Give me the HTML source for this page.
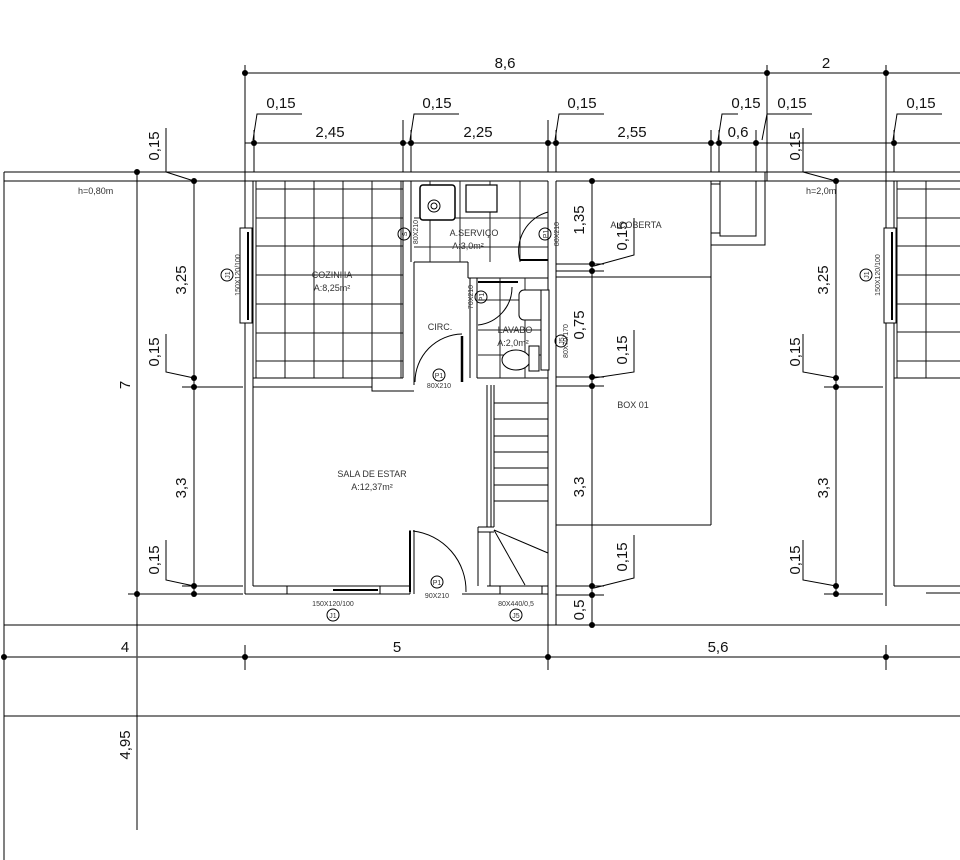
<!DOCTYPE html>
<html><head><meta charset="utf-8"><style>
html,body{margin:0;padding:0;background:#fff}
svg{display:block}
text{font-family:"Liberation Sans",sans-serif;fill:#111}
.d{font-size:15px}
.s{font-size:9px;fill:#333}
.t{font-size:7px;fill:#333}
</style></head><body>
<svg width="960" height="860" viewBox="0 0 960 860" xmlns="http://www.w3.org/2000/svg">
<g stroke="#000" stroke-width="1" fill="none">
<line x1="245" y1="73" x2="960" y2="73"/>
<line x1="245" y1="65" x2="245" y2="181"/>
<line x1="767" y1="65" x2="767" y2="181"/>
<line x1="886" y1="65" x2="886" y2="181"/>
<line x1="245" y1="143" x2="960" y2="143"/>
<g>
<line x1="254" y1="130" x2="254" y2="172"/><line x1="403" y1="120" x2="403" y2="172"/><line x1="411" y1="130" x2="411" y2="172"/>
<line x1="548" y1="120" x2="548" y2="172"/><line x1="556" y1="130" x2="556" y2="172"/>
<line x1="711" y1="130" x2="711" y2="172"/><line x1="719" y1="130" x2="719" y2="172"/><line x1="756" y1="130" x2="756" y2="172"/>
<line x1="894" y1="130" x2="894" y2="172"/>
</g>
<polyline points="302,114 257,114 253,140"/>
<polyline points="459,114 414,114 410,140"/>
<polyline points="604,114 559,114 555,140"/>
<polyline points="738,114 722,114 718,140"/>
<polyline points="812,114 767,114 762,140"/>
<polyline points="942,114 897,114 893,140"/>
<line x1="4" y1="172" x2="960" y2="172"/>
<line x1="4" y1="181" x2="245" y2="181"/>
<line x1="4" y1="172" x2="4" y2="860"/>
<line x1="137" y1="172" x2="137" y2="830"/>
<line x1="4" y1="625" x2="960" y2="625"/>
<line x1="4" y1="657" x2="960" y2="657" stroke="#555" stroke-width="1.5"/>
<line x1="4" y1="716" x2="960" y2="716"/>
<line x1="245" y1="645" x2="245" y2="670"/><line x1="548" y1="625" x2="548" y2="670"/><line x1="886" y1="645" x2="886" y2="670"/>
<line x1="194" y1="181" x2="194" y2="594"/>
<polyline points="166,128 166,172 194,181"/>
<polyline points="166,334 166,372 194,378"/>
<polyline points="166,540 166,580 194,586"/>
<line x1="182" y1="387" x2="243" y2="387"/>
<line x1="128" y1="594" x2="243" y2="594"/>
<line x1="182" y1="586" x2="243" y2="586"/>
<line x1="245" y1="181" x2="245" y2="594"/><line x1="253" y1="181" x2="253" y2="586"/>
<line x1="245" y1="181" x2="548" y2="181"/>
<line x1="245" y1="594" x2="410" y2="594"/><line x1="253" y1="586" x2="410" y2="586"/>
<line x1="462" y1="594" x2="548" y2="594"/><line x1="487" y1="586" x2="548" y2="586"/>
<line x1="410" y1="530" x2="410" y2="594"/><line x1="414" y1="530" x2="414" y2="594"/>
<line x1="548" y1="181" x2="548" y2="625"/><line x1="556" y1="181" x2="556" y2="625"/>
<line x1="556" y1="181" x2="960" y2="181"/>
<rect x="287" y="586" width="93" height="8"/>
<line x1="333" y1="590" x2="378" y2="590" stroke-width="2"/>
<rect x="500" y="586" width="42" height="8"/>
<g stroke="#111">
<line x1="256" y1="181" x2="256" y2="378"/><line x1="285" y1="181" x2="285" y2="378"/><line x1="314" y1="181" x2="314" y2="378"/>
<line x1="343" y1="181" x2="343" y2="378"/><line x1="372" y1="181" x2="372" y2="378"/><line x1="401" y1="181" x2="401" y2="378"/>
<line x1="256" y1="189" x2="403" y2="189"/><line x1="256" y1="218" x2="403" y2="218"/><line x1="256" y1="246" x2="403" y2="246"/>
<line x1="256" y1="275" x2="403" y2="275"/><line x1="256" y1="304" x2="403" y2="304"/><line x1="256" y1="333" x2="403" y2="333"/>
<line x1="256" y1="361" x2="403" y2="361"/>
</g>
<line x1="253" y1="378" x2="403" y2="378"/><line x1="253" y1="387" x2="372" y2="387"/>
<polyline points="372,378 372,391 414,391"/>
<line x1="403" y1="181" x2="403" y2="378"/><line x1="411" y1="181" x2="411" y2="262"/>
<line x1="414" y1="262" x2="414" y2="385"/>
<rect x="240" y="228" width="12" height="95" fill="#fff"/>
<line x1="248" y1="232" x2="248" y2="320" stroke-width="2"/>
<line x1="414" y1="262" x2="468" y2="262"/><line x1="468" y1="262" x2="468" y2="278"/>
<line x1="468" y1="278" x2="548" y2="278"/><line x1="477" y1="278" x2="477" y2="378"/>
<line x1="470" y1="278" x2="470" y2="378"/>
<line x1="477" y1="378" x2="548" y2="378"/>
<g stroke="#222">
<line x1="430" y1="181" x2="430" y2="262"/><line x1="460" y1="181" x2="460" y2="262"/><line x1="490" y1="181" x2="490" y2="262"/><line x1="520" y1="181" x2="520" y2="262"/>
<line x1="414" y1="218" x2="548" y2="218"/><line x1="414" y1="247" x2="548" y2="247"/>
<line x1="500" y1="278" x2="500" y2="378"/><line x1="525" y1="278" x2="525" y2="378"/>
<line x1="478" y1="300" x2="548" y2="300"/><line x1="478" y1="330" x2="548" y2="330"/><line x1="478" y1="355" x2="548" y2="355"/>
</g>
<rect x="420" y="185" width="35" height="35" rx="3" fill="#fff" stroke-width="1.5"/>
<circle cx="434" cy="206" r="6"/><circle cx="434" cy="206" r="3"/>
<rect x="466" y="185" width="31" height="27" fill="#fff" stroke-width="1.2"/>
<rect x="519" y="290" width="27" height="30" rx="5" fill="#fff"/>
<ellipse cx="516" cy="360" rx="14" ry="10" fill="#fff"/>
<rect x="529" y="346" width="10" height="25" fill="#fff"/>
<path d="M520,261 A40,40 0 0 1 548,212"/>
<line x1="520" y1="260" x2="548" y2="260" stroke-width="2"/>
<path d="M415,382 A48,48 0 0 1 462,334"/>
<line x1="462" y1="336" x2="462" y2="382" stroke-width="2.5"/>
<path d="M512,287 A38,38 0 0 1 478,325"/>
<line x1="478" y1="282" x2="518" y2="282" stroke-width="2"/>
<path d="M413,531 A60,60 0 0 1 466,592"/>
<line x1="410" y1="531" x2="410" y2="592" stroke-width="2"/>
<rect x="541" y="290" width="8" height="80" fill="#fff"/>
<line x1="487" y1="385" x2="487" y2="527"/><line x1="491" y1="385" x2="491" y2="527"/><line x1="494" y1="385" x2="494" y2="527"/>
<line x1="478" y1="527" x2="494" y2="527"/><line x1="478" y1="532" x2="494" y2="532"/>
<line x1="478" y1="527" x2="478" y2="586"/><line x1="490" y1="532" x2="490" y2="586"/>
<line x1="494" y1="403" x2="548" y2="403"/><line x1="494" y1="419" x2="548" y2="419"/><line x1="494" y1="436" x2="548" y2="436"/>
<line x1="494" y1="452" x2="548" y2="452"/><line x1="494" y1="468" x2="548" y2="468"/><line x1="494" y1="485" x2="548" y2="485"/>
<line x1="494" y1="501" x2="548" y2="501"/>
<line x1="494" y1="530" x2="548" y2="553"/><line x1="494" y1="530" x2="525" y2="585"/>
<line x1="592" y1="181" x2="592" y2="625"/>
<line x1="556" y1="264" x2="604" y2="264"/><line x1="556" y1="271" x2="604" y2="271"/>
<line x1="556" y1="277" x2="711" y2="277"/>
<line x1="556" y1="377" x2="604" y2="377"/><line x1="556" y1="386" x2="604" y2="386"/>
<line x1="556" y1="586" x2="604" y2="586"/><line x1="556" y1="595" x2="604" y2="595"/>
<polyline points="634,218 634,255 594,266"/>
<polyline points="634,330 634,372 594,378"/>
<polyline points="634,535 634,578 594,588"/>
<line x1="711" y1="181" x2="711" y2="525"/><line x1="556" y1="525" x2="711" y2="525"/>
<rect x="711" y="181" width="54" height="64"/>
<rect x="720" y="181" width="36" height="55"/>
<line x1="711" y1="184" x2="720" y2="184"/><line x1="711" y1="233" x2="720" y2="233"/>
<line x1="765" y1="172" x2="765" y2="181"/>
<line x1="836" y1="181" x2="836" y2="594"/>
<polyline points="803,128 803,172 836,181"/>
<polyline points="803,334 803,372 836,378"/>
<polyline points="803,540 803,580 836,586"/>
<line x1="824" y1="387" x2="883" y2="387"/>
<line x1="824" y1="594" x2="883" y2="594"/>
<line x1="886" y1="181" x2="886" y2="606"/><line x1="894" y1="181" x2="894" y2="586"/>
<line x1="894" y1="378" x2="960" y2="378"/><line x1="894" y1="586" x2="960" y2="586"/>
<line x1="926" y1="593" x2="960" y2="593"/>
<g stroke="#111">
<line x1="897" y1="181" x2="897" y2="378"/><line x1="926" y1="181" x2="926" y2="378"/>
<line x1="897" y1="189" x2="960" y2="189"/><line x1="897" y1="218" x2="960" y2="218"/><line x1="897" y1="246" x2="960" y2="246"/>
<line x1="897" y1="275" x2="960" y2="275"/><line x1="897" y1="304" x2="960" y2="304"/><line x1="897" y1="332" x2="960" y2="332"/>
<line x1="897" y1="361" x2="960" y2="361"/>
</g>
<rect x="884" y="228" width="12" height="95" fill="#fff"/>
<line x1="892" y1="232" x2="892" y2="320" stroke-width="2"/>
<circle cx="227" cy="275" r="6"/><circle cx="404" cy="234" r="6"/><circle cx="545" cy="234" r="6"/>
<circle cx="481" cy="297" r="6"/><circle cx="439" cy="375" r="6"/><circle cx="561" cy="341" r="6"/>
<circle cx="437" cy="582" r="6"/><circle cx="333" cy="615" r="6"/><circle cx="516" cy="615" r="6"/>
<circle cx="866" cy="275" r="6"/>
</g>
<g fill="#000">
<circle cx="245" cy="73" r="3"/><circle cx="767" cy="73" r="3"/><circle cx="886" cy="73" r="3"/>
<circle cx="254" cy="143" r="3"/><circle cx="403" cy="143" r="3"/><circle cx="411" cy="143" r="3"/><circle cx="548" cy="143" r="3"/><circle cx="556" cy="143" r="3"/>
<circle cx="711" cy="143" r="3"/><circle cx="719" cy="143" r="3"/><circle cx="756" cy="143" r="3"/><circle cx="894" cy="143" r="3"/>
<circle cx="137" cy="172" r="3"/><circle cx="137" cy="594" r="3"/>
<circle cx="194" cy="181" r="3"/><circle cx="194" cy="378" r="3"/><circle cx="194" cy="387" r="3"/><circle cx="194" cy="586" r="3"/><circle cx="194" cy="594" r="3"/>
<circle cx="592" cy="181" r="3"/><circle cx="592" cy="264" r="3"/><circle cx="592" cy="271" r="3"/><circle cx="592" cy="377" r="3"/><circle cx="592" cy="386" r="3"/><circle cx="592" cy="586" r="3"/><circle cx="592" cy="595" r="3"/><circle cx="592" cy="625" r="3"/>
<circle cx="836" cy="181" r="3"/><circle cx="836" cy="378" r="3"/><circle cx="836" cy="387" r="3"/><circle cx="836" cy="586" r="3"/><circle cx="836" cy="594" r="3"/>
<circle cx="4" cy="657" r="3"/><circle cx="245" cy="657" r="3"/><circle cx="548" cy="657" r="3"/><circle cx="886" cy="657" r="3"/>
</g>
<text class="d" x="505" y="68" text-anchor="middle">8,6</text>
<text class="d" x="826" y="68" text-anchor="middle">2</text>
<text class="d" x="281" y="108" text-anchor="middle">0,15</text>
<text class="d" x="437" y="108" text-anchor="middle">0,15</text>
<text class="d" x="582" y="108" text-anchor="middle">0,15</text>
<text class="d" x="746" y="108" text-anchor="middle">0,15</text>
<text class="d" x="792" y="108" text-anchor="middle">0,15</text>
<text class="d" x="921" y="108" text-anchor="middle">0,15</text>
<text class="d" x="330" y="137" text-anchor="middle">2,45</text>
<text class="d" x="478" y="137" text-anchor="middle">2,25</text>
<text class="d" x="632" y="137" text-anchor="middle">2,55</text>
<text class="d" x="738" y="137" text-anchor="middle">0,6</text>
<text class="d" x="125" y="652" text-anchor="middle">4</text>
<text class="d" x="397" y="652" text-anchor="middle">5</text>
<text class="d" x="718" y="652" text-anchor="middle">5,6</text>
<g class="d">
<text transform="translate(159,146) rotate(-90)" text-anchor="middle">0,15</text>
<text transform="translate(186,280) rotate(-90)" text-anchor="middle">3,25</text>
<text transform="translate(159,352) rotate(-90)" text-anchor="middle">0,15</text>
<text transform="translate(186,488) rotate(-90)" text-anchor="middle">3,3</text>
<text transform="translate(159,560) rotate(-90)" text-anchor="middle">0,15</text>
<text transform="translate(130,385) rotate(-90)" text-anchor="middle">7</text>
<text transform="translate(130,745) rotate(-90)" text-anchor="middle">4,95</text>
<text transform="translate(584,220) rotate(-90)" text-anchor="middle">1,35</text>
<text transform="translate(627,236) rotate(-90)" text-anchor="middle">0,15</text>
<text transform="translate(584,325) rotate(-90)" text-anchor="middle">0,75</text>
<text transform="translate(627,350) rotate(-90)" text-anchor="middle">0,15</text>
<text transform="translate(584,487) rotate(-90)" text-anchor="middle">3,3</text>
<text transform="translate(627,557) rotate(-90)" text-anchor="middle">0,15</text>
<text transform="translate(584,610) rotate(-90)" text-anchor="middle">0,5</text>
<text transform="translate(800,146) rotate(-90)" text-anchor="middle">0,15</text>
<text transform="translate(828,280) rotate(-90)" text-anchor="middle">3,25</text>
<text transform="translate(800,352) rotate(-90)" text-anchor="middle">0,15</text>
<text transform="translate(828,488) rotate(-90)" text-anchor="middle">3,3</text>
<text transform="translate(800,560) rotate(-90)" text-anchor="middle">0,15</text>
</g>
<text class="s" x="332" y="278" text-anchor="middle">COZINHA</text>
<text class="s" x="332" y="291" text-anchor="middle">A:8,25m²</text>
<text class="s" x="474" y="236" text-anchor="middle">A.SERVIÇO</text>
<text class="s" x="468" y="249" text-anchor="middle">A:3,0m²</text>
<text class="s" x="440" y="330" text-anchor="middle">CIRC.</text>
<text class="s" x="515" y="333" text-anchor="middle">LAVABO</text>
<text class="s" x="513" y="346" text-anchor="middle">A:2,0m²</text>
<text class="s" x="372" y="477" text-anchor="middle">SALA DE ESTAR</text>
<text class="s" x="372" y="490" text-anchor="middle">A:12,37m²</text>
<text class="s" x="636" y="228" text-anchor="middle">A.COBERTA</text>
<text class="s" x="633" y="408" text-anchor="middle">BOX 01</text>
<text class="s" x="78" y="194">h=0,80m</text>
<text class="s" x="806" y="194">h=2,0m</text>
<text class="t" x="439" y="388" text-anchor="middle">80X210</text>
<text class="t" x="437" y="598" text-anchor="middle">90X210</text>
<text class="t" x="333" y="606" text-anchor="middle">150X120/100</text>
<text class="t" x="516" y="606" text-anchor="middle">80X440/0,5</text>
<text class="t" x="439" y="378" text-anchor="middle">P1</text>
<text class="t" x="437" y="585" text-anchor="middle">P1</text>
<text class="t" x="333" y="618" text-anchor="middle">J1</text>
<text class="t" x="516" y="618" text-anchor="middle">J5</text>
<text class="t" transform="translate(230,275) rotate(-90)" text-anchor="middle">J1</text>
<text class="t" transform="translate(869,275) rotate(-90)" text-anchor="middle">J1</text>
<text class="t" transform="translate(407,234) rotate(-90)" text-anchor="middle">S</text>
<text class="t" transform="translate(548,234) rotate(-90)" text-anchor="middle">P1</text>
<text class="t" transform="translate(484,297) rotate(-90)" text-anchor="middle">P1</text>
<text class="t" transform="translate(564,341) rotate(-90)" text-anchor="middle">J5</text>
<text class="t" transform="translate(240,275) rotate(-90)" text-anchor="middle">150X120/100</text>
<text class="t" transform="translate(880,275) rotate(-90)" text-anchor="middle">150X120/100</text>
<text class="t" transform="translate(418,232) rotate(-90)" text-anchor="middle">80X210</text>
<text class="t" transform="translate(559,234) rotate(-90)" text-anchor="middle">80X210</text>
<text class="t" transform="translate(473,297) rotate(-90)" text-anchor="middle">70X210</text>
<text class="t" transform="translate(568,341) rotate(-90)" text-anchor="middle">80X70/170</text>
</svg>
</body></html>
